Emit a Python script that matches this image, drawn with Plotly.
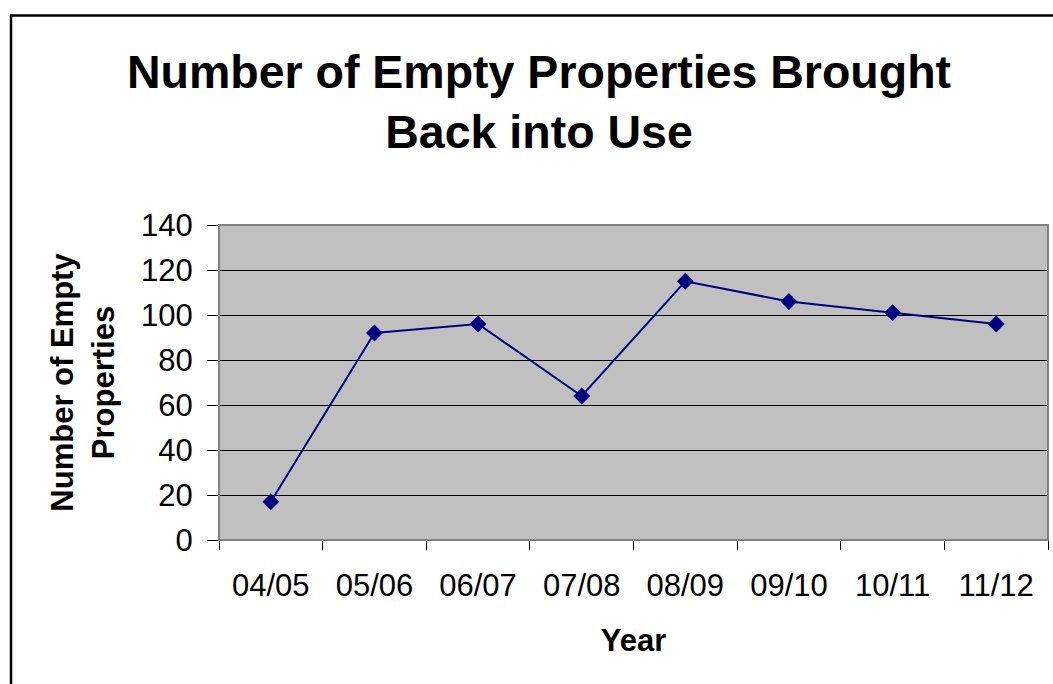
import plotly.graph_objects as go

years = ["04/05", "05/06", "06/07", "07/08", "08/09", "09/10", "10/11", "11/12"]
properties = [17, 92, 96, 64, 115, 106, 101, 96]
y_ticks = [0, 20, 40, 60, 80, 100, 120, 140]

W, H = 1053, 684
L, R, T, B = 219, 5, 225, 144
pw = W - L - R
ph = H - T - B

fig = go.Figure()
fig.add_trace(go.Scatter(
    x=years, y=properties, mode="lines+markers",
    line=dict(color="#000080", width=2),
    marker=dict(symbol="diamond", size=13, color="#000080"),
    showlegend=False,
))

font = "Liberation Sans, Arial, sans-serif"
fig.update_layout(
    width=W, height=H,
    margin=dict(l=L, r=R, t=T, b=B),
    paper_bgcolor="white",
    plot_bgcolor="#C0C0C0",
    font=dict(family=font, color="black"),
    title=dict(
        text="<b>Number of Empty Properties Brought<br>Back into Use</b>",
        font=dict(size=46.5, family=font, color="black"),
        x=(539) / W, xanchor="center",
        y=1 - 88 / H, yanchor="middle",
    ),
    xaxis=dict(
        type="category",
        range=[-0.5, 7.5],
        tickson="boundaries",
        ticks="outside", ticklen=9, tickcolor="black", tickwidth=1,
        showline=True, linecolor="black", linewidth=1,
        showgrid=False,
        ticklabelstandoff=18,
        tickfont=dict(size=31, family=font),
        title=dict(text="<b>Year</b>", font=dict(size=31, family=font), standoff=27),
    ),
    yaxis=dict(
        range=[0, 140],
        tickvals=y_ticks,
        ticks="outside", ticklen=11, tickcolor="black", tickwidth=1,
        showline=True, linecolor="black", linewidth=1,
        showgrid=True, gridcolor="black", gridwidth=1,
        zeroline=False,
        ticklabelstandoff=8,
        tickfont=dict(size=31, family=font),
        title=dict(text="<b>Number of Empty<br>Properties</b>", font=dict(size=31, family=font), standoff=17),
    ),
    shapes=[
        # plot area border
        dict(type="rect", xref="paper", yref="paper", x0=0, y0=0, x1=1, y1=1,
             line=dict(color="#808080", width=2), layer="above"),
        # outer chart border
        dict(type="rect", xref="paper", yref="paper",
             x0=(11 - L) / pw, y0=-1.0, x1=1.2, y1=(H - B - 15.5) / ph,
             line=dict(color="black", width=2.5), layer="above"),
    ],
)

fig.write_html("out.html")
